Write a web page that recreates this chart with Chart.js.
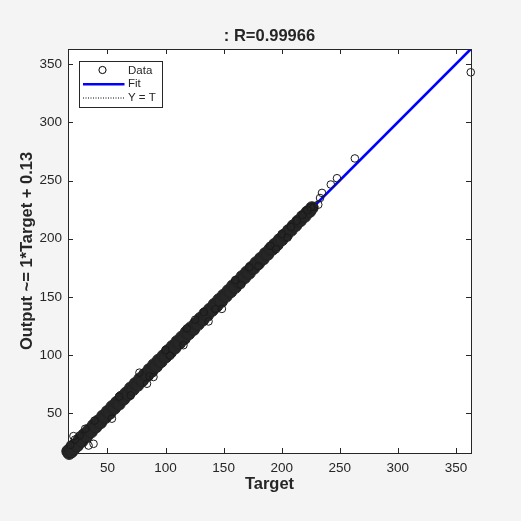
<!DOCTYPE html>
<html>
<head>
<meta charset="utf-8">
<script src="https://cdn.jsdelivr.net/npm/chart.js@4.4.1/dist/chart.umd.min.js"></script>
<style>
html,body{margin:0;padding:0;background:#f4f4f4;}
#wrap{width:521px;height:521px;}
</style>
</head>
<body>
<div id="wrap"><canvas id="c" width="521" height="521"></canvas></div>
<script>
// ---- data ----
const titleText = ': R=0.99966';
const xLabel = 'Target';
const yLabel = 'Output ~= 1*Target + 0.13';
const axisMin = 16;
const axisMax = 363;
const tickValues = [50, 100, 150, 200, 250, 300, 350];

// dense core of the data cloud (overlapping markers appear solid)
const coreTarget = [16,17,18,19,20,21,22,24,26,28,30,32,34,36,38,40,42,44,46,48,50,52,54,56,58,60,62,64,66,68,70,72,74,76,78,80,82,84,86,88,90,92,94,96,98,100,102,104,106,108,110,112,114,116,118,120,122,124,126,128,130,132,134,136,138,140,142,144,146,148,150,152,154,156,158,160,162,164,166,168,170,172,174,176,178,180,182,184,186,188,190,192,194,196,198,200,202,204,206,208,210,212,214,216,218,220,222,224,226];
const coreOutput = [17.5,15.8,19.4,17.2,21.3,19.6,23.1,22.4,27.7,26.3,31.8,30.4,35.6,34.3,39.7,38.5,43.4,42.2,47.6,46.5,51.5,50.3,55.7,54.6,59.4,58.2,63.8,62.5,67.3,66.4,71.7,70.6,75.5,74.3,79.6,78.4,83.3,82.6,87.5,86.3,91.7,90.4,95.6,94.5,99.3,98.6,103.7,102.4,107.5,106.3,111.6,110.5,115.4,114.3,119.7,118.6,123.5,122.2,127.3,126.6,131.5,130.4,135.6,134.5,139.3,138.6,143.5,142.4,147.6,146.3,151.4,150.7,155.3,154.6,159.5,158.4,163.2,162.8,167.4,166.7,171.3,170.6,175.2,174.8,179.3,178.9,183.1,182.8,187.2,186.9,191.0,191.2,195.1,195.0,199.0,199.2,203.0,203.3,207.0,207.4,211.0,211.5,215.0,215.6,219.0,219.5,222.8,223.6,226.5];

// individually visible markers (outliers and band edges)
const dataTarget = [362.8,263,247.6,242.3,234.7,233,231.5,228,225,222,218,213,208,148.5,137,125.5,118.3,115.4,89.6,86.2,84,77.5,53.8,38.8,38,33.7,30.8,20.7,60,70,100,104,160,165,190,195,200,205,133,143,180,172,18,22,26];
const dataOutput = [343,269,252,246.6,239.4,235,229.3,227.5,226.8,224.5,220.5,215.5,210.2,139.8,129,130.5,123,108.6,81.3,81.9,75.5,85,45.5,43.8,23.9,22.4,36.8,30.5,64.5,65.5,104.5,99.5,164.5,160.5,194,191,204,201,137,139.5,176.5,175.5,23,27.5,31];

// fit line endpoints (Output = 1*Target + 0.13) and identity line
const fitX = [16, 363];
const fitY = [16.13, 363.13];
const idX = [16, 363];
const idY = [16, 363];

const zip = (xs, ys) => xs.map((x, i) => ({x: x, y: ys[i]}));
const INK = '#262626';
const FONT = '"Liberation Sans", Arial, Helvetica, sans-serif';

const framePlugin = {
  id: 'frame',
  beforeDraw(chart) {
    const {ctx, chartArea: a} = chart;
    ctx.save();
    ctx.fillStyle = '#f4f4f4';
    ctx.fillRect(0, 0, chart.width, chart.height);
    ctx.fillStyle = '#ffffff';
    ctx.fillRect(a.left, a.top, a.right - a.left, a.bottom - a.top);
    ctx.restore();
  },
  afterDraw(chart) {
    const {ctx, chartArea: a, scales} = chart;
    ctx.save();
    ctx.strokeStyle = INK;
    ctx.lineWidth = 1;
    ctx.strokeRect(Math.round(a.left) + 0.5, Math.round(a.top) + 0.5, Math.round(a.right - a.left), Math.round(a.bottom - a.top));
    const tl = 5;
    ctx.beginPath();
    tickValues.forEach(v => {
      const px = Math.round(scales.x.getPixelForValue(v)) + 0.5;
      ctx.moveTo(px, a.bottom); ctx.lineTo(px, a.bottom - tl);
      ctx.moveTo(px, a.top); ctx.lineTo(px, a.top + tl);
      const py = Math.round(scales.y.getPixelForValue(v)) + 0.5;
      ctx.moveTo(a.left, py); ctx.lineTo(a.left + tl, py);
      ctx.moveTo(a.right, py); ctx.lineTo(a.right - tl, py);
    });
    ctx.stroke();
    ctx.fillStyle = INK;
    ctx.font = 'bold 16.5px ' + FONT;
    ctx.textAlign = 'center';
    ctx.textBaseline = 'alphabetic';
    const cx = (a.left + a.right) / 2;
    ctx.fillText(titleText, cx, 41);
    ctx.fillText(xLabel, cx, 489);
    ctx.save();
    ctx.translate(31.5, (a.top + a.bottom) / 2);
    ctx.rotate(-Math.PI / 2);
    ctx.fillText(yLabel, 0, 0);
    ctx.restore();
    const lx = 79.5, ly = 61.5, lw = 83, lh = 46;
    ctx.fillStyle = '#ffffff';
    ctx.fillRect(lx, ly, lw, lh);
    ctx.strokeStyle = INK;
    ctx.lineWidth = 1;
    ctx.strokeRect(lx, ly, lw, lh);
    ctx.strokeStyle = '#000000';
    ctx.beginPath();
    ctx.arc(102.5, 70, 3.6, 0, Math.PI * 2);
    ctx.stroke();
    ctx.strokeStyle = '#0000ff';
    ctx.lineWidth = 2.5;
    ctx.beginPath();
    ctx.moveTo(83, 84.3); ctx.lineTo(124.5, 84.3);
    ctx.stroke();
    ctx.strokeStyle = '#000000';
    ctx.lineWidth = 1;
    ctx.setLineDash([1, 1.5]);
    ctx.beginPath();
    ctx.moveTo(83, 98); ctx.lineTo(124.5, 98);
    ctx.stroke();
    ctx.setLineDash([]);
    ctx.fillStyle = INK;
    ctx.font = '11.5px ' + FONT;
    ctx.textAlign = 'left';
    ctx.textBaseline = 'alphabetic';
    ctx.fillText('Data', 128, 73.5);
    ctx.fillText('Fit', 128, 87);
    ctx.fillText('Y = T', 128, 101);
    ctx.restore();
  }
};

const axisCommon = {
  type: 'linear',
  min: axisMin,
  max: axisMax,
  grid: {display: false, drawTicks: false},
  border: {display: false},
  afterBuildTicks: s => { s.ticks = tickValues.map(v => ({value: v})); },
  ticks: {color: INK, font: {family: FONT, size: 13.5}}
};

new Chart(document.getElementById('c'), {
  type: 'scatter',
  data: {
    datasets: [
      {
        label: 'Data',
        data: zip(dataTarget, dataOutput),
        pointStyle: 'circle',
        pointRadius: 3.8,
        pointBorderWidth: 1,
        pointBorderColor: '#1a1a1a',
        pointBackgroundColor: 'rgba(0,0,0,0)',
        showLine: false,
        clip: false,
        order: 0
      },
      {
        label: 'DataCore',
        data: zip(coreTarget, coreOutput),
        pointStyle: 'circle',
        pointRadius: 6.2,
        pointBorderWidth: 1,
        pointBorderColor: '#222222',
        pointBackgroundColor: '#262626',
        showLine: false,
        clip: false,
        order: 1
      },
      {
        label: 'Fit',
        data: zip(fitX, fitY),
        showLine: true,
        borderColor: '#0000ff',
        borderWidth: 2.6,
        pointRadius: 0,
        order: 2
      },
      {
        label: 'Y = T',
        data: zip(idX, idY),
        showLine: true,
        borderColor: '#000000',
        borderWidth: 0.8,
        borderDash: [1, 1.5],
        pointRadius: 0,
        order: 3
      }
    ]
  },
  options: {
    responsive: false,
    animation: false,
    devicePixelRatio: 1,
    layout: {padding: {left: 0, right: 50, top: 49, bottom: 0}},
    plugins: {legend: {display: false}, title: {display: false}, tooltip: {enabled: false}},
    scales: {
      x: Object.assign({}, axisCommon, {
        position: 'bottom',
        afterFit: s => { s.height = 68; },
        ticks: Object.assign({}, axisCommon.ticks, {padding: 7, maxRotation: 0})
      }),
      y: Object.assign({}, axisCommon, {
        position: 'left',
        afterFit: s => { s.width = 68; },
        ticks: Object.assign({}, axisCommon.ticks, {padding: 6})
      })
    }
  },
  plugins: [framePlugin]
});
</script>
</body>
</html>
